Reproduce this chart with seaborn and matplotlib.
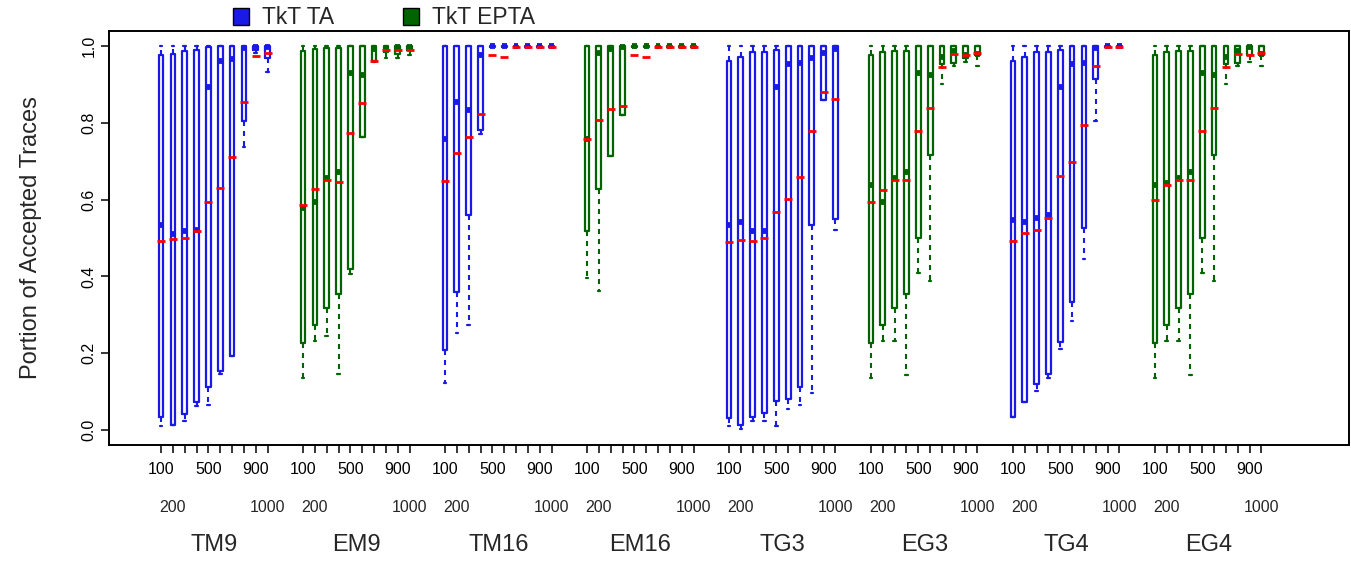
import matplotlib
matplotlib.use("Agg")
import matplotlib.pyplot as plt
from matplotlib.patches import Patch
import pandas as pd
import seaborn as sns

# Trace-set sizes (one box per size) and the eight experiment groups
SIZES = [100, 200, 300, 400, 500, 600, 700, 800, 900, 1000]
GROUPS = ["TM9", "EM9", "TM16", "EM16", "TG3", "EG3", "TG4", "EG4"]
SERIES = ["TkT TA", "TkT EPTA"]

# Per size: (lower whisker, Q1, median, Q3, upper whisker, mean)
TM9 = [
    (0.010, 0.033, 0.533, 0.977, 1.000, 0.491),
    (0.011, 0.011, 0.510, 0.981, 1.000, 0.498),
    (0.022, 0.042, 0.519, 0.988, 1.000, 0.501),
    (0.061, 0.073, 0.522, 0.990, 1.000, 0.519),
    (0.064, 0.110, 0.894, 0.998, 1.000, 0.594),
    (0.144, 0.153, 0.962, 1.000, 1.000, 0.631),
    (0.193, 0.193, 0.966, 1.000, 1.000, 0.712),
    (0.738, 0.804, 0.995, 1.000, 1.000, 0.855),
    (0.982, 0.990, 0.997, 1.000, 1.000, 0.976),
    (0.934, 0.969, 0.998, 1.000, 1.000, 0.982),
]
EM9 = [
    (0.134, 0.225, 0.577, 0.987, 1.000, 0.587),
    (0.230, 0.272, 0.594, 0.992, 1.000, 0.627),
    (0.244, 0.317, 0.656, 0.995, 1.000, 0.650),
    (0.145, 0.355, 0.672, 0.995, 1.000, 0.646),
    (0.407, 0.418, 0.931, 1.000, 1.000, 0.773),
    (0.763, 0.763, 0.924, 1.000, 1.000, 0.853),
    (0.960, 0.962, 0.993, 1.000, 1.000, 0.963),
    (0.969, 0.985, 0.995, 1.000, 1.000, 0.990),
    (0.969, 0.980, 0.998, 1.000, 1.000, 0.990),
    (0.978, 0.990, 0.997, 1.000, 1.000, 0.991),
]
TM16 = [
    (0.122, 0.209, 0.759, 1.000, 1.000, 0.648),
    (0.252, 0.359, 0.855, 1.000, 1.000, 0.723),
    (0.274, 0.560, 0.834, 1.000, 1.000, 0.763),
    (0.770, 0.782, 0.977, 1.000, 1.000, 0.824),
    (0.997, 0.998, 1.000, 1.000, 1.000, 0.978),
    (0.997, 0.998, 1.000, 1.000, 1.000, 0.972),
    (0.998, 0.999, 1.000, 1.000, 1.000, 0.999),
    (0.998, 0.999, 1.000, 1.000, 1.000, 0.999),
    (0.998, 0.999, 1.000, 1.000, 1.000, 0.999),
    (0.998, 0.999, 1.000, 1.000, 1.000, 0.999),
]
EM16 = [
    (0.395, 0.517, 0.757, 1.000, 1.000, 0.757),
    (0.361, 0.629, 0.983, 1.000, 1.000, 0.809),
    (0.714, 0.714, 0.994, 1.000, 1.000, 0.836),
    (0.822, 0.822, 0.997, 1.000, 1.000, 0.844),
    (0.997, 0.998, 1.000, 1.000, 1.000, 0.977),
    (0.997, 0.998, 1.000, 1.000, 1.000, 0.971),
    (0.998, 0.999, 1.000, 1.000, 1.000, 0.999),
    (0.998, 0.999, 1.000, 1.000, 1.000, 0.999),
    (0.998, 0.999, 1.000, 1.000, 1.000, 0.999),
    (0.998, 0.999, 1.000, 1.000, 1.000, 0.999),
]
TG3 = [
    (0.010, 0.030, 0.533, 0.963, 1.000, 0.489),
    (0.003, 0.011, 0.543, 0.973, 1.000, 0.494),
    (0.022, 0.032, 0.519, 0.985, 1.000, 0.493),
    (0.022, 0.043, 0.519, 0.985, 1.000, 0.500),
    (0.009, 0.074, 0.894, 0.990, 1.000, 0.567),
    (0.055, 0.080, 0.955, 1.000, 1.000, 0.603),
    (0.064, 0.110, 0.957, 1.000, 1.000, 0.660),
    (0.096, 0.535, 0.969, 1.000, 1.000, 0.778),
    (0.860, 0.860, 0.982, 1.000, 1.000, 0.881),
    (0.522, 0.550, 0.992, 1.000, 1.000, 0.862),
]
EG3 = [
    (0.134, 0.225, 0.637, 0.978, 1.000, 0.594),
    (0.230, 0.272, 0.595, 0.984, 1.000, 0.625),
    (0.230, 0.317, 0.656, 0.989, 1.000, 0.652),
    (0.142, 0.355, 0.672, 0.989, 1.000, 0.650),
    (0.408, 0.500, 0.931, 1.000, 1.000, 0.779),
    (0.387, 0.716, 0.924, 1.000, 1.000, 0.838),
    (0.901, 0.955, 0.972, 1.000, 1.000, 0.946),
    (0.950, 0.957, 0.988, 1.000, 1.000, 0.980),
    (0.960, 0.970, 0.977, 1.000, 1.000, 0.977),
    (0.950, 0.977, 0.980, 1.000, 1.000, 0.982),
]
TG4 = [
    (0.032, 0.032, 0.547, 0.963, 1.000, 0.493),
    (0.072, 0.072, 0.543, 0.973, 1.000, 0.514),
    (0.100, 0.120, 0.552, 0.985, 1.000, 0.522),
    (0.135, 0.144, 0.560, 0.985, 1.000, 0.551),
    (0.211, 0.228, 0.894, 0.990, 1.000, 0.661),
    (0.283, 0.332, 0.955, 1.000, 1.000, 0.698),
    (0.444, 0.525, 0.957, 1.000, 1.000, 0.795),
    (0.805, 0.914, 0.995, 1.000, 1.000, 0.949),
    (0.997, 0.998, 1.000, 1.000, 1.000, 0.997),
    (0.997, 0.998, 1.000, 1.000, 1.000, 0.997),
]
EG4 = [
    (0.134, 0.225, 0.637, 0.978, 1.000, 0.599),
    (0.230, 0.272, 0.644, 0.984, 1.000, 0.638),
    (0.230, 0.317, 0.656, 0.989, 1.000, 0.652),
    (0.142, 0.355, 0.672, 0.989, 1.000, 0.650),
    (0.408, 0.500, 0.931, 1.000, 1.000, 0.779),
    (0.387, 0.716, 0.924, 1.000, 1.000, 0.838),
    (0.901, 0.955, 0.972, 1.000, 1.000, 0.946),
    (0.950, 0.957, 0.988, 1.000, 1.000, 0.980),
    (0.960, 0.977, 0.997, 1.000, 1.000, 0.977),
    (0.950, 0.977, 0.980, 1.000, 1.000, 0.982),
]

GROUP_STATS = [TM9, EM9, TM16, EM16, TG3, EG3, TG4, EG4]
Y_TICKS = [0.0, 0.2, 0.4, 0.6, 0.8, 1.0]
ROW1_SIZES = [100, 500, 900]
ROW2_SIZES = [200, 1000]

BLUE = "#1a1ae6"
GREEN = "#006400"
MEAN_RED = "#ff0000"
SLOT = 12  # ten boxes plus a two-slot gap per group

# Long-form table of box statistics
rows = []
for g, (name, stats) in enumerate(zip(GROUPS, GROUP_STATS)):
    series = SERIES[0] if name.startswith("T") else SERIES[1]
    for i, (size, st) in enumerate(zip(SIZES, stats)):
        lo, q1, med, q3, hi, mean = st
        rows.append(dict(group=name, series=series, size=size,
                         pos=g * SLOT + i, whislo=lo, q1=q1, med=med,
                         q3=q3, whishi=hi, mean=mean))
df = pd.DataFrame(rows)

sns.set_style("ticks")
plt.rcParams["font.family"] = ["Liberation Sans", "DejaVu Sans"]

fig = plt.figure(figsize=(13.51, 5.61), dpi=100)
ax = fig.add_axes([109 / 1351, 1 - 445 / 561, 1240 / 1351, 414 / 561])

colors = {SERIES[0]: BLUE, SERIES[1]: GREEN}
for series, sub in df.groupby("series", sort=False):
    c = colors[series]
    stats = [dict(med=r.med, q1=r.q1, q3=r.q3, whislo=r.whislo,
                  whishi=r.whishi, fliers=[]) for r in sub.itertuples()]
    ax.bxp(stats, positions=sub["pos"].tolist(), widths=0.40,
           capwidths=0.22, showfliers=False, manage_ticks=False,
           boxprops=dict(color=c, linewidth=1.6),
           whiskerprops=dict(color=c, linewidth=1.5, linestyle=(0, (2.4, 2.4))),
           capprops=dict(color=c, linewidth=1.6),
           medianprops=dict(color=c, linewidth=4.2, solid_capstyle="butt"))

# Means as short red dashes
sns.scatterplot(data=df, x="pos", y="mean", marker="_", s=38,
                color=MEAN_RED, linewidth=2.0, ax=ax, zorder=5, legend=False)

ax.set_xlim(-4.40, 100.4)
ax.set_ylim(-0.04, 1.04)

# Frame and ticks
for sp in ax.spines.values():
    sp.set_visible(True)
    sp.set_color("black")
    sp.set_linewidth(1.4)
ax.tick_params(axis="both", direction="out", length=6, width=1.1,
               color="black", labelsize=11.5, labelcolor="black")
ax.tick_params(axis="x", pad=6)
ax.tick_params(axis="y", pad=3)

ax.set_yticks(Y_TICKS)
ax.set_yticklabels([f"{v:.1f}" for v in Y_TICKS], rotation=90, va="center")

ax.set_xticks(df["pos"].tolist())
ax.set_xticklabels([str(s) if s in ROW1_SIZES else "" for s in df["size"]])
ax.set_xlabel("")
ax.set_ylabel("")

# Second row of size labels and group names
xt = ax.get_xaxis_transform()
for g, name in enumerate(GROUPS):
    for i, size in enumerate(SIZES):
        if size in ROW2_SIZES:
            ax.text(g * SLOT + i, -0.150, str(size), transform=xt,
                    ha="center", va="center", fontsize=11.5)
    ax.text(g * SLOT + 4.5, -0.242, name, transform=xt,
            ha="center", va="center", fontsize=17)

fig.text(31 / 1351, 1 - 238 / 561, "Portion of Accepted Traces",
         rotation=90, ha="center", va="center", fontsize=17)

handles = [Patch(facecolor=BLUE, edgecolor="black", linewidth=1.0),
           Patch(facecolor=GREEN, edgecolor="black", linewidth=1.0)]
fig.legend(handles, SERIES, loc="center", bbox_to_anchor=(384 / 1351, 1 - 18 / 561),
           ncol=2, frameon=False, fontsize=16.5, handlelength=0.7,
           handleheight=0.7, handletextpad=0.55, columnspacing=3.0,
           borderpad=0.0, borderaxespad=0.0)

fig.savefig("out.png", dpi=100)
